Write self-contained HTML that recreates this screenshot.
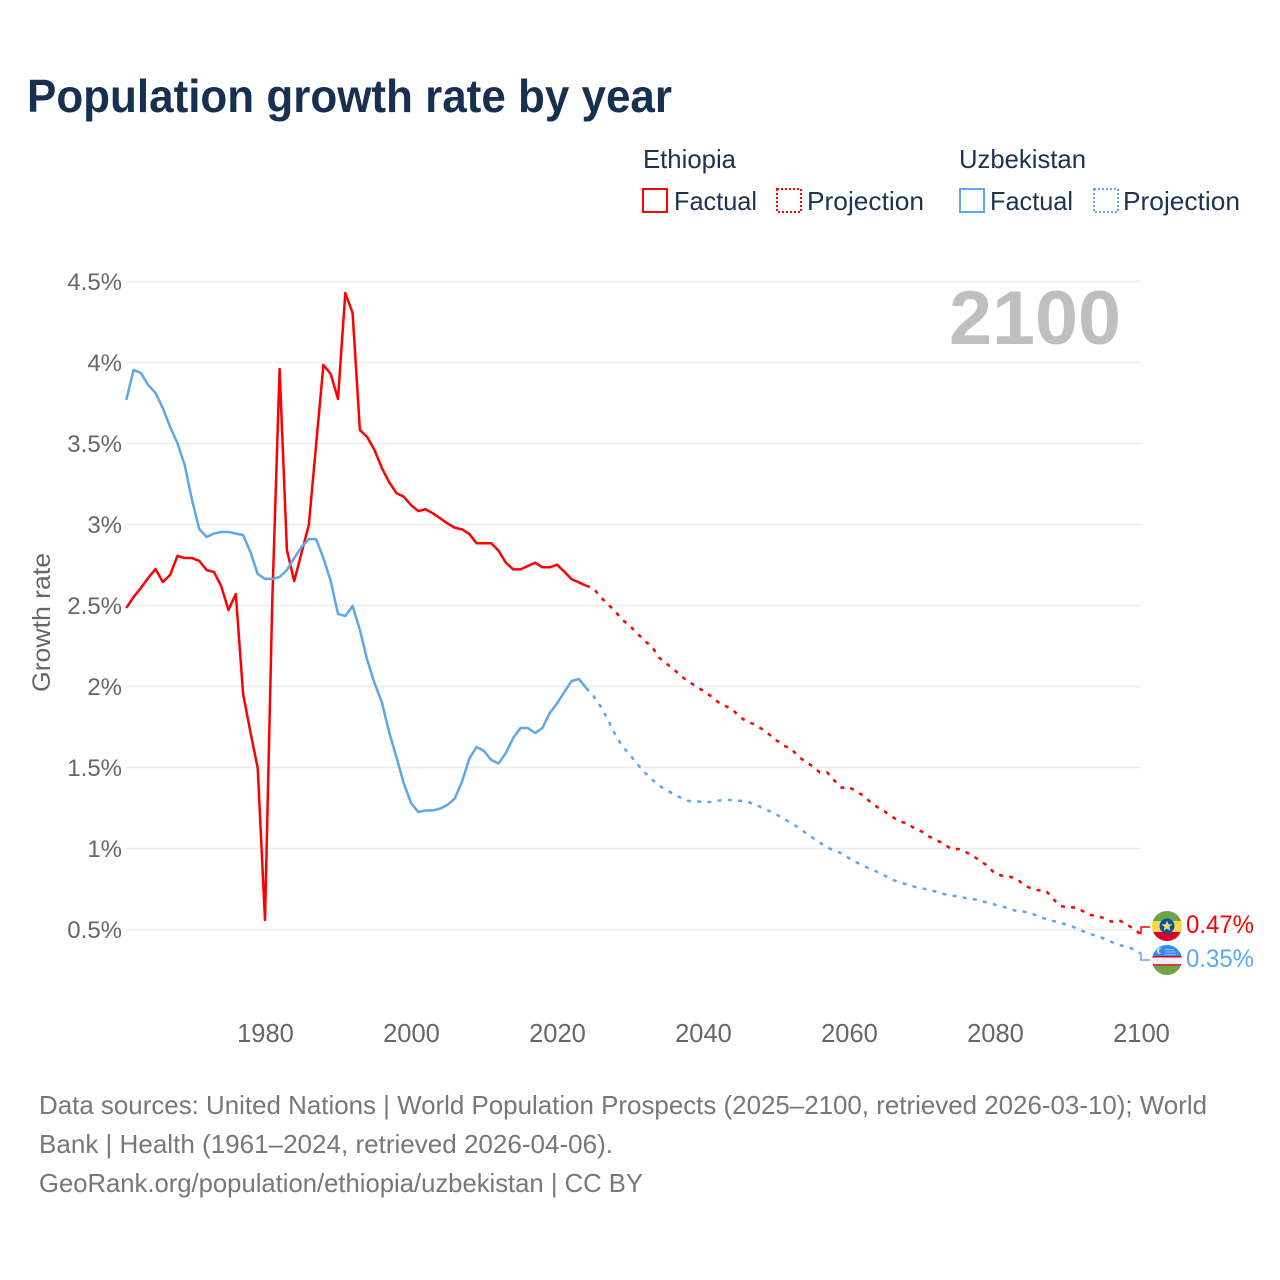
<!DOCTYPE html>
<html lang="en">
<head>
<meta charset="utf-8">
<title>Population growth rate by year</title>
<style>
html,body{margin:0;padding:0;background:#fff;}
svg{display:block;font-family:"Liberation Sans",sans-serif;}
</style>
</head>
<body>
<svg id="chart" width="1280" height="1280" viewBox="0 0 1280 1280" xmlns="http://www.w3.org/2000/svg">
  <rect x="0" y="0" width="1280" height="1280" fill="#fff"/>
  <text x="27" y="112" font-size="46" font-weight="700" fill="#17304f" textLength="645" lengthAdjust="spacingAndGlyphs">Population growth rate by year</text>

  <g font-size="26" fill="#1b3252">
    <text x="643" y="168" textLength="93" lengthAdjust="spacingAndGlyphs">Ethiopia</text>
    <text x="959" y="168" textLength="127" lengthAdjust="spacingAndGlyphs">Uzbekistan</text>
    <rect x="643" y="189" width="24" height="23" fill="none" stroke="#ff0000" stroke-width="2"/>
    <text x="674" y="210" textLength="83" lengthAdjust="spacingAndGlyphs">Factual</text>
    <rect x="777" y="189" width="24" height="23" fill="none" stroke="#ff0000" stroke-width="2" stroke-dasharray="2 2"/>
    <text x="807" y="210" textLength="117" lengthAdjust="spacingAndGlyphs">Projection</text>
    <rect x="960" y="189" width="24" height="23" fill="none" stroke="#5ea6ee" stroke-width="2"/>
    <text x="990" y="210" textLength="83" lengthAdjust="spacingAndGlyphs">Factual</text>
    <rect x="1094" y="189" width="24" height="23" fill="none" stroke="#5ea6ee" stroke-width="2" stroke-dasharray="2 2"/>
    <text x="1123" y="210" textLength="117" lengthAdjust="spacingAndGlyphs">Projection</text>
  </g>

  <g id="grid"></g>
  <text x="949" y="344" font-size="76" font-weight="700" fill="#bfbfbf" textLength="172" lengthAdjust="spacingAndGlyphs">2100</text>
  <g id="yticks"></g>
  <g id="xticks"></g>
  <text transform="translate(50,692) rotate(-90)" font-size="25" fill="#666" textLength="139" lengthAdjust="spacingAndGlyphs">Growth rate</text>
  <g id="series"></g>

  <defs>
    <clipPath id="flag-clip-et"><circle cx="1167" cy="926" r="15"/></clipPath>
    <clipPath id="flag-clip-uz"><circle cx="1167" cy="960" r="15"/></clipPath>
  </defs>
  <g clip-path="url(#flag-clip-et)">
    <rect x="1152" y="911" width="30" height="10" fill="#6da544"/>
    <rect x="1152" y="921" width="30" height="11" fill="#ffda44"/>
    <rect x="1152" y="932" width="30" height="10" fill="#d80027"/>
    <circle cx="1167" cy="926" r="7.5" fill="#0052b4"/>
    <polygon points="1167,920.5 1168.5,924.2 1172.5,924.4 1169.4,926.9 1170.4,930.8 1167,928.6 1163.6,930.8 1164.6,926.9 1161.5,924.4 1165.5,924.2" fill="#ffda44"/>
  </g>
  <g clip-path="url(#flag-clip-uz)">
    <rect x="1152" y="945" width="30" height="11" fill="#338af3"/>
    <rect x="1152" y="956" width="30" height="1.6" fill="#d80027"/>
    <rect x="1152" y="957.6" width="30" height="6.6" fill="#f0f0f0"/>
    <rect x="1152" y="964.2" width="30" height="1.6" fill="#d80027"/>
    <rect x="1152" y="965.8" width="30" height="10" fill="#6da544"/>
    <circle cx="1160" cy="951" r="3" fill="#f0f0f0"/>
    <circle cx="1161.4" cy="951" r="2.6" fill="#338af3"/>
    <rect x="1165" y="949" width="9" height="1" fill="#9cc8f8"/>
    <rect x="1165" y="951.5" width="11" height="1" fill="#9cc8f8"/>
    <rect x="1165" y="954" width="11" height="0.8" fill="#9cc8f8"/>
  </g>
  <g id="endlabels"></g>

  <g font-size="26" fill="#777">
    <text x="39" y="1114" textLength="1168" lengthAdjust="spacingAndGlyphs">Data sources: United Nations | World Population Prospects (2025–2100, retrieved 2026-03-10); World</text>
    <text x="39" y="1153" textLength="574" lengthAdjust="spacingAndGlyphs">Bank | Health (1961–2024, retrieved 2026-04-06).</text>
    <text x="39" y="1192" textLength="604" lengthAdjust="spacingAndGlyphs">GeoRank.org/population/ethiopia/uzbekistan | CC BY</text>
  </g>
</svg>
<script>
var yTicks = [0.5, 1, 1.5, 2, 2.5, 3, 3.5, 4, 4.5];
var yTickLabels = ['0.5%', '1%', '1.5%', '2%', '2.5%', '3%', '3.5%', '4%', '4.5%'];
var xTicks = [1980, 2000, 2020, 2040, 2060, 2080, 2100];
var factualStartYear = 1961;
var projectionStartYear = 2025;

var ethiopiaFactual = [
2.485,2.552,2.608,2.670,2.725,2.645,2.688,2.806,2.793,2.793,
2.775,2.719,2.707,2.620,2.472,2.571,1.954,1.719,1.497,0.559,
2.534,3.960,2.843,2.651,2.824,2.997,3.491,3.985,3.929,3.775,
4.429,4.306,3.583,3.540,3.460,3.349,3.262,3.194,3.172,3.120,
3.083,3.094,3.069,3.038,3.007,2.980,2.970,2.941,2.884,2.884,
2.884,2.838,2.764,2.723,2.723,2.744,2.764,2.736,2.736,2.752,
2.709,2.662,2.643,2.622];

var ethiopiaProjection = [
2.606,2.551,2.507,2.462,2.410,2.373,2.328,2.281,2.246,2.178,
2.141,2.106,2.065,2.030,2.003,1.974,1.943,1.906,1.881,1.859,
1.814,1.783,1.767,1.740,1.707,1.670,1.635,1.619,1.571,1.536,
1.509,1.470,1.470,1.419,1.375,1.380,1.351,1.326,1.283,1.252,
1.225,1.193,1.165,1.156,1.122,1.104,1.073,1.052,1.028,0.997,
0.997,0.978,0.954,0.923,0.892,0.844,0.832,0.826,0.812,0.773,
0.752,0.742,0.738,0.686,0.645,0.635,0.637,0.614,0.590,0.583,
0.569,0.548,0.557,0.534,0.503,0.47];

var uzbekistanFactual = [
3.769,3.954,3.935,3.861,3.812,3.719,3.602,3.503,3.367,3.151,
2.972,2.923,2.944,2.954,2.954,2.944,2.935,2.830,2.694,2.664,
2.664,2.676,2.719,2.793,2.861,2.910,2.910,2.793,2.651,2.448,
2.435,2.497,2.349,2.164,2.022,1.904,1.719,1.565,1.404,1.281,
1.225,1.235,1.235,1.247,1.269,1.309,1.414,1.556,1.627,1.602,
1.546,1.525,1.590,1.682,1.744,1.744,1.713,1.744,1.836,1.895,
1.966,2.034,2.046,1.991];

var uzbekistanProjection = [
1.941,1.875,1.793,1.701,1.628,1.577,1.522,1.470,1.427,1.388,
1.361,1.335,1.312,1.293,1.293,1.285,1.287,1.295,1.301,1.298,
1.295,1.289,1.275,1.254,1.233,1.211,1.186,1.159,1.131,1.098,
1.067,1.036,1.007,0.986,0.970,0.940,0.915,0.892,0.873,0.853,
0.830,0.806,0.791,0.777,0.764,0.754,0.744,0.733,0.719,0.711,
0.702,0.694,0.688,0.678,0.665,0.653,0.643,0.627,0.614,0.610,
0.600,0.579,0.565,0.552,0.540,0.528,0.511,0.491,0.472,0.460,
0.443,0.423,0.404,0.394,0.378,0.35];

var NS = 'http://www.w3.org/2000/svg';
var RED = '#ff0000';
var BLUE = '#5ea6ee';

function xScale(year) { return 265 + (year - 1980) * 7.3; }
function yScale(value) { return 929.5 - (value - 0.5) * 162; }

function pathFrom(values, startYear) {
  var d = '';
  for (var i = 0; i < values.length; i++) {
    d += (d === '' ? 'M' : 'L') + xScale(startYear + i).toFixed(2) + ' ' + yScale(values[i]).toFixed(2);
  }
  return d;
}

var gridGroup = document.getElementById('grid');
var yGroup = document.getElementById('yticks');
yTicks.forEach(function (t, i) {
  var line = document.createElementNS(NS, 'line');
  
  
  line.setAttribute('x1', xScale(factualStartYear));
  line.setAttribute('x2', xScale(2100));
  line.setAttribute('y1', yScale(t));
  line.setAttribute('y2', yScale(t));
  line.setAttribute('stroke', '#ececec');
  line.setAttribute('stroke-width', '1.5');
  gridGroup.appendChild(line);

  var label = document.createElementNS(NS, 'text');
  
  
  label.setAttribute('x', 122);
  label.setAttribute('y', yScale(t) + 8.5);
  label.setAttribute('text-anchor', 'end');
  label.setAttribute('font-size', '24');
  label.setAttribute('fill', '#666');
  label.textContent = yTickLabels[i];
  yGroup.appendChild(label);
});

var xGroup = document.getElementById('xticks');
xTicks.forEach(function (t) {
  var label = document.createElementNS(NS, 'text');
  
  
  label.setAttribute('x', xScale(t) + 0.5);
  label.setAttribute('y', 1042);
  label.setAttribute('text-anchor', 'middle');
  label.setAttribute('font-size', '25.5');
  label.setAttribute('fill', '#666');
  label.textContent = String(t);
  xGroup.appendChild(label);
});

var seriesGroup = document.getElementById('series');

var ethProj = document.createElementNS(NS, 'path');


ethProj.setAttribute('d', pathFrom(ethiopiaFactual.slice(-1).concat(ethiopiaProjection), projectionStartYear - 1));
ethProj.setAttribute('fill', 'none');
ethProj.setAttribute('stroke', RED);
ethProj.setAttribute('stroke-width', '2.5');
ethProj.setAttribute('stroke-dasharray', '4 6.3');
seriesGroup.appendChild(ethProj);

var uzbProj = document.createElementNS(NS, 'path');


uzbProj.setAttribute('d', pathFrom(uzbekistanFactual.slice(-1).concat(uzbekistanProjection), projectionStartYear - 1));
uzbProj.setAttribute('fill', 'none');
uzbProj.setAttribute('stroke', BLUE);
uzbProj.setAttribute('stroke-width', '2.5');
uzbProj.setAttribute('stroke-dasharray', '4 6.3');
seriesGroup.appendChild(uzbProj);

var ethFact = document.createElementNS(NS, 'path');


ethFact.setAttribute('d', pathFrom(ethiopiaFactual, factualStartYear));
ethFact.setAttribute('fill', 'none');
ethFact.setAttribute('stroke', RED);
ethFact.setAttribute('stroke-width', '2.5');
ethFact.setAttribute('stroke-linejoin', 'round');
seriesGroup.appendChild(ethFact);

var uzbFact = document.createElementNS(NS, 'path');


uzbFact.setAttribute('d', pathFrom(uzbekistanFactual, factualStartYear));
uzbFact.setAttribute('fill', 'none');
uzbFact.setAttribute('stroke', BLUE);
uzbFact.setAttribute('stroke-width', '2.5');
uzbFact.setAttribute('stroke-linejoin', 'round');
seriesGroup.appendChild(uzbFact);

var endGroup = document.getElementById('endlabels');
var xEnd = xScale(2100);
var ethLast = ethiopiaProjection[ethiopiaProjection.length - 1];
var uzbLast = uzbekistanProjection[uzbekistanProjection.length - 1];

var ethConn = document.createElementNS(NS, 'path');


ethConn.setAttribute('d', 'M' + xEnd + ' ' + yScale(ethLast) + 'V927H1150');
ethConn.setAttribute('fill', 'none');
ethConn.setAttribute('stroke', RED);
ethConn.setAttribute('stroke-width', '1.5');
endGroup.appendChild(ethConn);

var uzbConn = document.createElementNS(NS, 'path');


uzbConn.setAttribute('d', 'M' + xEnd + ' ' + yScale(uzbLast) + 'V960H1150');
uzbConn.setAttribute('fill', 'none');
uzbConn.setAttribute('stroke', BLUE);
uzbConn.setAttribute('stroke-width', '1.5');
endGroup.appendChild(uzbConn);

var ethLabel = document.createElementNS(NS, 'text');


ethLabel.setAttribute('x', 1186);
ethLabel.setAttribute('y', 933);
ethLabel.setAttribute('font-size', '25');
ethLabel.setAttribute('fill', RED);
ethLabel.setAttribute('textLength', '68');
ethLabel.setAttribute('lengthAdjust', 'spacingAndGlyphs');
ethLabel.textContent = ethLast.toFixed(2) + '%';
endGroup.appendChild(ethLabel);

var uzbLabel = document.createElementNS(NS, 'text');


uzbLabel.setAttribute('x', 1186);
uzbLabel.setAttribute('y', 967);
uzbLabel.setAttribute('font-size', '25');
uzbLabel.setAttribute('fill', BLUE);
uzbLabel.setAttribute('textLength', '68');
uzbLabel.setAttribute('lengthAdjust', 'spacingAndGlyphs');
uzbLabel.textContent = uzbLast.toFixed(2) + '%';
endGroup.appendChild(uzbLabel);
</script>
</body>
</html>
